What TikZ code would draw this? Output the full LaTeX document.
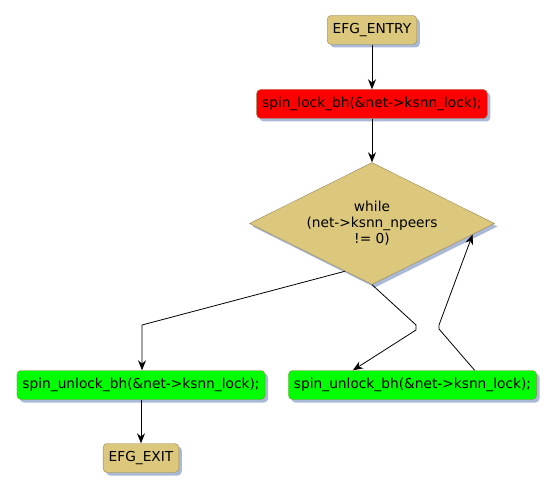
\documentclass[tikz,border=0pt]{standalone}
\usepackage{fontspec}
\setmainfont{DejaVu Sans}
\usetikzlibrary{shapes.geometric,shadows,arrows.meta,calc}
\definecolor{efgtan}{HTML}{DBC87D}
\definecolor{efgedge}{HTML}{978659}
\definecolor{efgshadow}{HTML}{A9B9D6}
\definecolor{efgred}{HTML}{FF0000}
\definecolor{efggreen}{HTML}{00FF00}
\tikzset{
  efgbox/.style={draw=efgedge, rounded corners=4bp, minimum height=29bp,
    inner xsep=5.5bp, font=\fontsize{13.8}{16}\selectfont,
    drop shadow={shadow xshift=3bp, shadow yshift=-3bp, fill=efgshadow, opacity=1}},
  efgcond/.style={efgbox, diamond, aspect=2, rounded corners=0pt, fill=efgtan,
    minimum width=245bp, minimum height=122bp, inner sep=0pt, align=center},
  efgarrow/.style={line width=0.8bp, -{Stealth[length=10bp,width=8bp]}}
}

\begin{document}
\begin{tikzpicture}[x=1bp, y=-1bp]
\useasboundingbox (0,0) rectangle (557,492);

% entry and lock
\node[efgbox, fill=efgtan] (entry) at (372,30) {EFG\_ENTRY};
\node[efgbox, fill=efgred] (lock) at (372,104) {spin\_lock\_bh(\&net->ksnn\_lock);};
\draw[efgarrow] (entry) -- (lock);

% loop test
\node[efgcond] (cond) at (372,223.5) {while\\(net->ksnn\_npeers\\!= 0)};
\draw[efgarrow] (lock) -- (cond);

% unlock boxes
\node[efgbox, fill=efggreen] (unlockA) at (141,385) {spin\_unlock\_bh(\&net->ksnn\_lock);};
\node[efgbox, fill=efggreen] (unlockB) at (412.5,385) {spin\_unlock\_bh(\&net->ksnn\_lock);};
\node[efgbox, fill=efgtan] (exit) at (141,458) {EFG\_EXIT};

% bends
\coordinate (bendA) at (142,325);
\coordinate (bendB1) at (416,325);
\coordinate (bendB2) at (416,330);
\coordinate (bendC1) at (439,329);
\coordinate (bendC2) at (439,325);

\draw[efgarrow] ($(cond.west)!0.78!(cond.south)$) -- (bendA) -- (bendA |- unlockA.north);
\draw[efgarrow] (cond.south) -- (bendB1) -- (bendB2)
  -- ($(unlockB.north west)!0.26!(unlockB.north east)$);
\draw[efgarrow] ($(unlockB.north west)!0.75!(unlockB.north east)$) -- (bendC1) -- (bendC2)
  -- ($(cond.east)!0.18!(cond.south)$);
\draw[efgarrow] (unlockA) -- (exit);
\end{tikzpicture}
\end{document}
